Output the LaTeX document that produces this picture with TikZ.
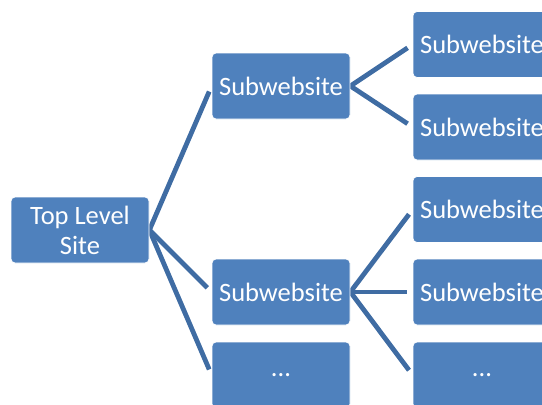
\documentclass[tikz,border=0pt]{standalone}
\usepackage{fontspec}
\setmainfont{Carlito}
\usetikzlibrary{positioning, backgrounds}
\definecolor{boxblue}{HTML}{4F81BD}
\definecolor{linkblue}{HTML}{3F6CA3}

\begin{document}
\begin{tikzpicture}
  [
    x=1pt, y=-1pt,
    site/.style={draw=white, line width=0.8pt, fill=boxblue, rounded corners=4pt,
      text=white, minimum width=138pt, minimum height=66pt, inner sep=0pt,
      align=center, font=\fontsize{26.5}{30}\selectfont},
    link/.style={draw=linkblue, line width=4.8pt, shorten >=6pt}
  ]
  \useasboundingbox (0,0) rectangle (542,405);

  \node[site] (top) at (80,230) {Top Level\\Site};
  \node[site] (subA) at (281,86) {Subwebsite};
  \node[site] (subB) at (281,292) {Subwebsite};
  \node[site] (more) at (281,375) {...};

  \node[site] (subA1) at (482,44.5) {Subwebsite};
  \node[site] (subA2) at (482,127) {Subwebsite};
  \node[site] (subB1) at (482,209.5) {Subwebsite};
  \node[site] (subB2) at (482,292) {Subwebsite};
  \node[site] (subB3) at (482,375) {...};

  % links go under the boxes
  \begin{scope}[on background layer]
    \foreach \from/\to in {top/subA, top/subB, top/more,
        subA/subA1, subA/subA2, subB/subB1, subB/subB2, subB/subB3}
      \draw[link] (\from.east) -- (\to.west);
  \end{scope}
\end{tikzpicture}
\end{document}
